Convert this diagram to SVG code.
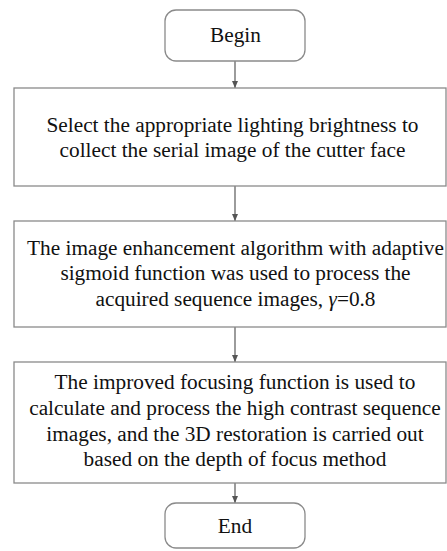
<svg xmlns="http://www.w3.org/2000/svg" width="447" height="551" viewBox="0 0 447 551">
  <defs>
    <marker id="arrow" markerWidth="8" markerHeight="8" refX="7" refY="4" orient="auto" markerUnits="userSpaceOnUse">
      <path d="M0,1 L7,4 L0,7 Z" fill="#555"/>
    </marker>
  </defs>
  <style>
    .box { fill: #fff; stroke: #8a8a8a; stroke-width: 1.3; }
    .lbl { font-family: 'Liberation Serif', 'Times New Roman', serif; font-size: 21.3px; fill: #111; text-anchor: middle; }
    .conn { stroke: #666; stroke-width: 1.3; fill: none; marker-end: url(#arrow); }
  </style>
  <rect width="447" height="551" fill="#fff"/>

  <g id="connectors">
    <line class="conn" x1="235" y1="61" x2="235" y2="88"/>
    <line class="conn" x1="235" y1="186" x2="235" y2="221"/>
    <line class="conn" x1="235" y1="327" x2="235" y2="362"/>
    <line class="conn" x1="235" y1="483" x2="235" y2="503"/>
  </g>

  <g id="begin">
    <rect class="box" x="165" y="10" width="140" height="51" rx="11"/>
    <text class="lbl" x="235.5" y="42">Begin</text>
  </g>

  <g id="step1">
    <rect class="box" x="14" y="88" width="432" height="98"/>
    <text class="lbl" x="232.5" y="131.5">Select the appropriate lighting brightness to</text>
    <text class="lbl" x="232.5" y="156.5">collect the serial image of the cutter face</text>
  </g>

  <g id="step2">
    <rect class="box" x="14" y="221" width="432" height="106"/>
    <text class="lbl" x="235.5" y="254.5">The image enhancement algorithm with adaptive</text>
    <text class="lbl" x="235.5" y="280">sigmoid function was used to process the</text>
    <text class="lbl" x="235.5" y="305.5">acquired sequence images, <tspan font-style="italic">γ</tspan>=0.8</text>
  </g>

  <g id="step3">
    <rect class="box" x="14" y="362" width="432" height="121"/>
    <text class="lbl" x="235" y="389">The improved focusing function is used to</text>
    <text class="lbl" x="235" y="415">calculate and process the high contrast sequence</text>
    <text class="lbl" x="235" y="440.5">images, and the 3D restoration is carried out</text>
    <text class="lbl" x="235" y="466">based on the depth of focus method</text>
  </g>

  <g id="end">
    <rect class="box" x="165" y="503" width="140" height="45" rx="11"/>
    <text class="lbl" x="235" y="533">End</text>
  </g>
</svg>
